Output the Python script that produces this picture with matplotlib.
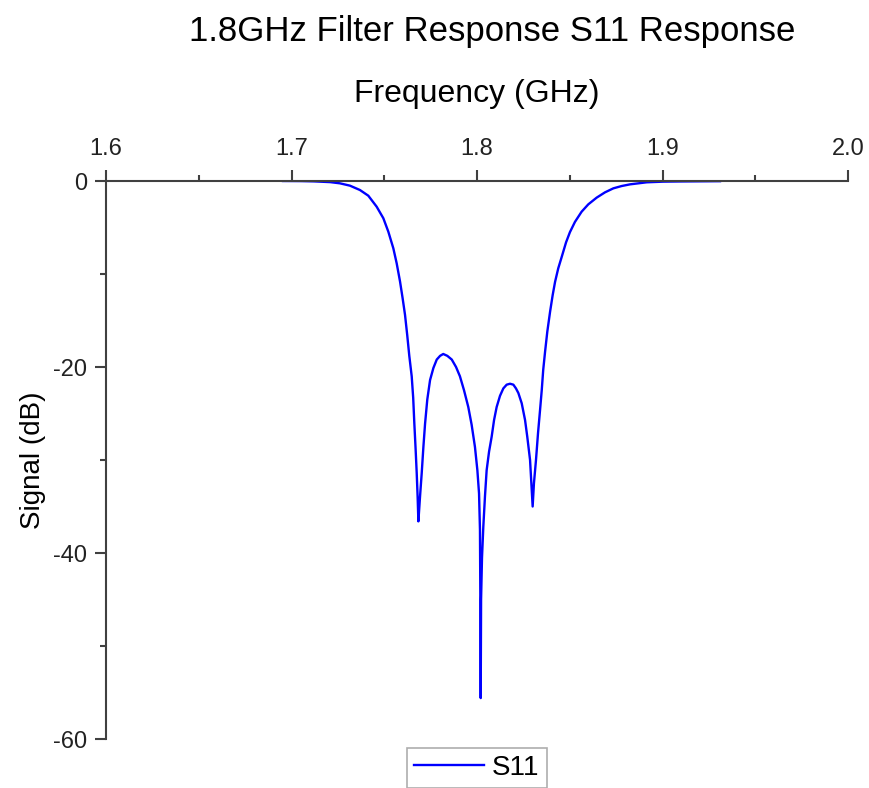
import matplotlib.pyplot as plt
from matplotlib.ticker import MultipleLocator

plt.rcParams['font.family'] = ['Liberation Sans', 'DejaVu Sans']
plt.rcParams['axes.unicode_minus'] = False

# S11 response (GHz, dB)
freq = [1.6954, 1.705, 1.712, 1.7208, 1.7261, 1.7315, 1.7369, 1.7414, 1.7459,
        1.7495, 1.7522, 1.7549, 1.7567, 1.7585, 1.7599, 1.7612, 1.7624, 1.7635,
        1.7648, 1.7656, 1.7662, 1.7669, 1.7675, 1.7680, 1.7684, 1.7693, 1.7702,
        1.7711, 1.7720, 1.7732, 1.7747, 1.7765, 1.7783, 1.7801, 1.7818, 1.7840,
        1.7864, 1.7887, 1.7908, 1.7930, 1.7953, 1.7971, 1.7989, 1.8002, 1.8011,
        1.8016, 1.8018, 1.8020, 1.8022, 1.8027, 1.8034, 1.8043, 1.8052, 1.8065,
        1.8079, 1.8092, 1.8106, 1.8124, 1.8142, 1.8160, 1.8178, 1.8196, 1.8210,
        1.8223, 1.8241, 1.8259, 1.8271, 1.8286, 1.8293, 1.8300, 1.8307, 1.8318,
        1.8329, 1.8340, 1.8349, 1.8357, 1.8367, 1.8379, 1.8394, 1.8408, 1.8421,
        1.8438, 1.8457, 1.8480, 1.8501, 1.8528, 1.8564, 1.8600, 1.8645, 1.8690,
        1.8735, 1.8780, 1.8825, 1.8915, 1.9004, 1.9094, 1.9310]
s11 = [0.0, -0.01, -0.04, -0.12, -0.25, -0.5, -0.97, -1.58, -2.76,
       -4.0, -5.45, -7.24, -8.85, -10.8, -12.6, -14.4, -16.6, -18.8,
       -21.0, -23.3, -26.0, -28.8, -31.4, -34.0, -36.6, -33.9, -31.4,
       -28.6, -26.1, -23.5, -21.4, -20.1, -19.2, -18.8, -18.6, -18.8,
       -19.2, -20.0, -21.0, -22.5, -24.3, -26.2, -28.6, -31.1, -33.6,
       -37.5, -45.0, -55.6, -45.0, -40.5, -37.2, -33.9, -31.1, -29.1,
       -27.5, -25.7, -24.3, -23.1, -22.3, -21.9, -21.8, -21.9, -22.3,
       -22.8, -23.9, -25.7, -27.5, -30.0, -32.5, -35.0, -32.5, -30.0,
       -27.1, -24.6, -22.5, -20.3, -18.35, -16.2, -14.05, -12.26, -10.83,
       -9.39, -8.14, -6.6, -5.5, -4.4, -3.3, -2.51, -1.79, -1.22,
       -0.79, -0.54, -0.36, -0.14, -0.07, -0.05, -0.02]

x_ticks = [1.6, 1.7, 1.8, 1.9, 2.0]
y_ticks = [0, -20, -40, -60]

fig = plt.figure(figsize=(8.7, 7.88), dpi=100)
ax = fig.add_axes([106 / 870, 1 - 739 / 788, (848 - 106) / 870, (739 - 181) / 788])

ax.plot(freq, s11, color='#0000ff', linewidth=1.7, label='S11')

ax.set_xlim(1.6, 2.0)
ax.set_ylim(-60, 0)
ax.xaxis.tick_top()
ax.xaxis.set_label_position('top')
ax.set_xticks(x_ticks)
ax.set_xticklabels([f'{v:.1f}' for v in x_ticks])
ax.set_yticks(y_ticks)
ax.xaxis.set_minor_locator(MultipleLocator(0.05))
ax.yaxis.set_minor_locator(MultipleLocator(10))

for side in ['right', 'bottom']:
    ax.spines[side].set_visible(False)
for side in ['top', 'left']:
    ax.spines[side].set_color('#404040')
    ax.spines[side].set_linewidth(1.5)

ax.tick_params(axis='both', which='major', direction='out', length=8, width=1.5,
               color='#404040', labelsize=17, labelcolor='#222222')
ax.tick_params(axis='both', which='minor', direction='out', length=4, width=1.5,
               color='#404040')
ax.tick_params(axis='x', which='major', pad=7)
ax.tick_params(axis='y', which='major', pad=5.5)

ax.set_xlabel('Frequency (GHz)', fontsize=23, labelpad=26)
ax.set_ylabel('Signal (dB)', fontsize=20, labelpad=5)

fig.text(492 / 870, 1 - 31 / 788, '1.8GHz Filter Response S11 Response',
         fontsize=25, ha='center', va='center')

leg = ax.legend(loc='upper center', bbox_to_anchor=(0.5, -0.016), fontsize=20,
                frameon=True, fancybox=False, handlelength=2.5, borderpad=0.25,
                handletextpad=0.3, borderaxespad=0)
leg.get_frame().set_edgecolor('#999999')
leg.get_frame().set_linewidth(1.2)

fig.savefig('out.png', dpi=100)
